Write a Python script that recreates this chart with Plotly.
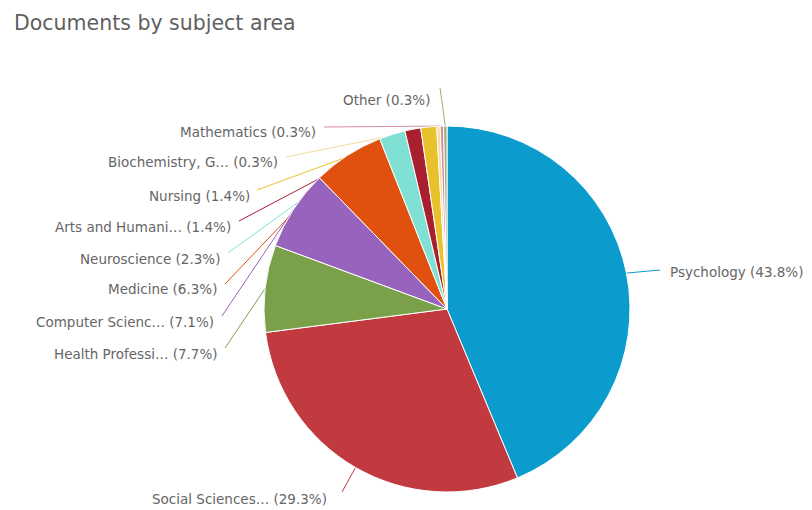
import math
import plotly.graph_objects as go

# ---- data ----
subjects = ["Psychology", "Social Sciences…", "Health Professi…", "Computer Scienc…",
            "Medicine", "Neuroscience", "Arts and Humani…", "Nursing",
            "Biochemistry, G…", "Mathematics", "Other"]
percent = [43.8, 29.3, 7.7, 7.1, 6.3, 2.3, 1.4, 1.4, 0.3, 0.3, 0.3]
colors = ["#0b9bcd", "#c13a40", "#7aa14a", "#9863bd", "#e0500f", "#7fe0d3",
          "#a8202f", "#e8c22c", "#f3dc9a", "#d98aa0", "#9bb07a"]

# ---- layout constants (pixels) ----
W, H = 812, 510
CX, CY, R = 447, 309, 183
FONT = "DejaVu Sans"
# label anchor (x, y, xanchor) and leader-line start (x, y)
label_pos = [
    (668, 272, "left", 660, 270),
    (150, 499, "left", 342, 492),
    (220, 354, "right", 225, 348),
    (216, 322, "right", 222, 316),
    (219, 289, "right", 225, 284),
    (222, 259, "right", 228, 253),
    (233, 227, "right", 239, 221),
    (252, 196, "right", 257, 190),
    (280, 162, "right", 286, 157),
    (318, 132, "right", 324, 127),
    (432, 100, "right", 440, 88),
]

def px(x):
    return x / W

def py(y):
    return 1 - y / H

fig = go.Figure(go.Pie(
    labels=subjects,
    values=percent,
    marker=dict(colors=colors, line=dict(color="#ffffff", width=1)),
    sort=False,
    direction="clockwise",
    rotation=0,
    textinfo="none",
    hoverinfo="label+percent",
    domain=dict(x=[px(CX - R), px(CX + R)], y=[py(CY + R), py(CY - R)]),
    showlegend=False,
))

total = sum(percent)
cum = 0.0
shapes = []
annotations = []
for name, v, col, lp in zip(subjects, percent, colors, label_pos):
    mid = (cum + v / 2) / total * 2 * math.pi
    cum += v
    ex = CX + R * math.sin(mid)
    ey = CY - R * math.cos(mid)
    tx, ty, anchor, sx, sy = lp
    shapes.append(dict(type="line", xref="paper", yref="paper", layer="below",
                       x0=px(sx), y0=py(sy), x1=px(ex), y1=py(ey),
                       line=dict(color=col, width=1)))
    annotations.append(dict(xref="paper", yref="paper", x=px(tx), y=py(ty),
                            xanchor=anchor, yanchor="middle", showarrow=False,
                            text=f"{name} ({v}%)",
                            font=dict(family=FONT, size=13.5, color="#666666")))

fig.update_layout(
    width=W, height=H,
    margin=dict(l=0, r=0, t=0, b=0),
    paper_bgcolor="#ffffff",
    plot_bgcolor="#ffffff",
    title=dict(text="Documents by subject area", x=px(14), xanchor="left",
               y=py(23), yanchor="middle",
               font=dict(family=FONT, size=20.5, color="#5f5f5f")),
    shapes=shapes,
    annotations=annotations,
)

fig.write_html("out.html")
